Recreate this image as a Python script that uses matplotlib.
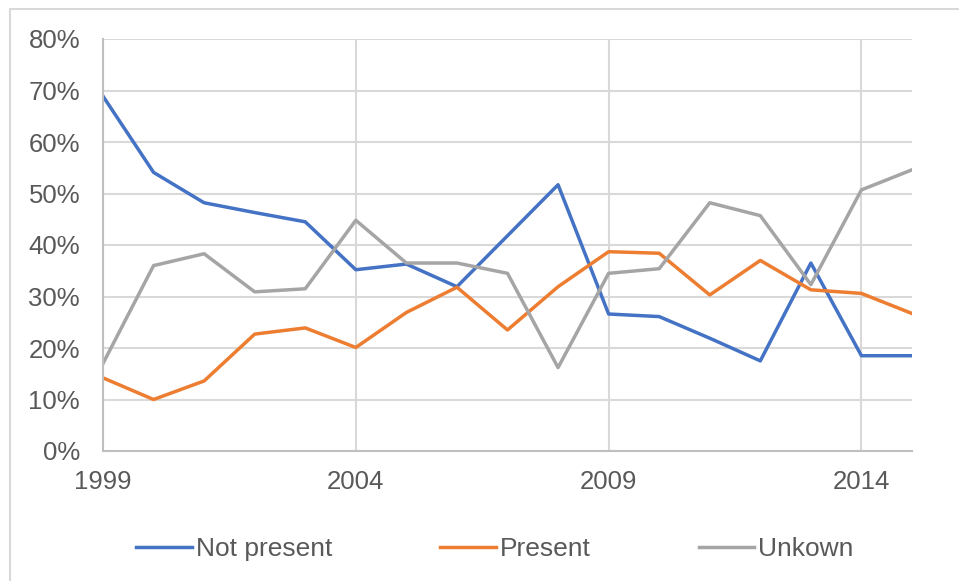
import matplotlib
matplotlib.use('Agg')
import matplotlib.pyplot as plt
from matplotlib.patches import Rectangle
from matplotlib.ticker import PercentFormatter

years = list(range(1999, 2016))
not_present = [68.9, 54.1, 48.2, 46.3, 44.5, 35.2, 36.3, 31.9, 41.8, 51.7,
               26.6, 26.1, 21.9, 17.5, 36.5, 18.5, 18.5]
present = [14.2, 10.0, 13.6, 22.7, 23.9, 20.1, 26.9, 31.8, 23.5, 31.9,
           38.7, 38.4, 30.3, 37.0, 31.3, 30.6, 26.7]
unknown = [17.0, 36.0, 38.3, 30.9, 31.5, 44.8, 36.5, 36.5, 34.5, 16.2,
           34.5, 35.4, 48.2, 45.7, 32.3, 50.7, 54.6]

plt.rcParams['font.family'] = ['Liberation Sans', 'DejaVu Sans']
text_col = '#595959'

fig = plt.figure(figsize=(9.59, 5.81), dpi=100)
ax = fig.add_axes([103 / 959, 1 - 451 / 581, (912 - 103) / 959, (451 - 39) / 581])

# outer chart border (cut off on right/bottom like the screenshot)
fig.patches.append(Rectangle((10 / 959, -0.1), 1.2, 1 - 9 / 581 + 0.1,
                             transform=fig.transFigure, fill=False,
                             edgecolor='#d9d9d9', linewidth=1.5))

ax.plot(years, not_present, color='#4472C4', lw=2.5, label='Not present')
ax.plot(years, present, color='#ED7D31', lw=2.5, label='Present')
ax.plot(years, unknown, color='#A5A5A5', lw=2.5, label='Unkown')

ax.set_xlim(1999, 2015)
ax.set_ylim(0, 80)
ax.set_xticks([1999, 2004, 2009, 2014])
ax.set_yticks(range(0, 81, 10))
ax.yaxis.set_major_formatter(PercentFormatter(decimals=0))
ax.grid(True, color='#d9d9d9', lw=1.5)
ax.set_axisbelow(True)
for s in ['top', 'right']:
    ax.spines[s].set_visible(False)
for s in ['left', 'bottom']:
    ax.spines[s].set_color('#bfbfbf')
    ax.spines[s].set_linewidth(1.5)
ax.tick_params(axis='both', length=0, labelsize=18.5, labelcolor=text_col)
ax.tick_params(axis='y', pad=16.5)
ax.tick_params(axis='x', pad=14)

fig.legend(loc='center', bbox_to_anchor=(0.516, 0.055), ncol=3, frameon=False,
           fontsize=19, labelcolor=text_col, handlelength=2.1,
           handletextpad=0.15, columnspacing=4.1)

plt.savefig('out.png', dpi=100)
